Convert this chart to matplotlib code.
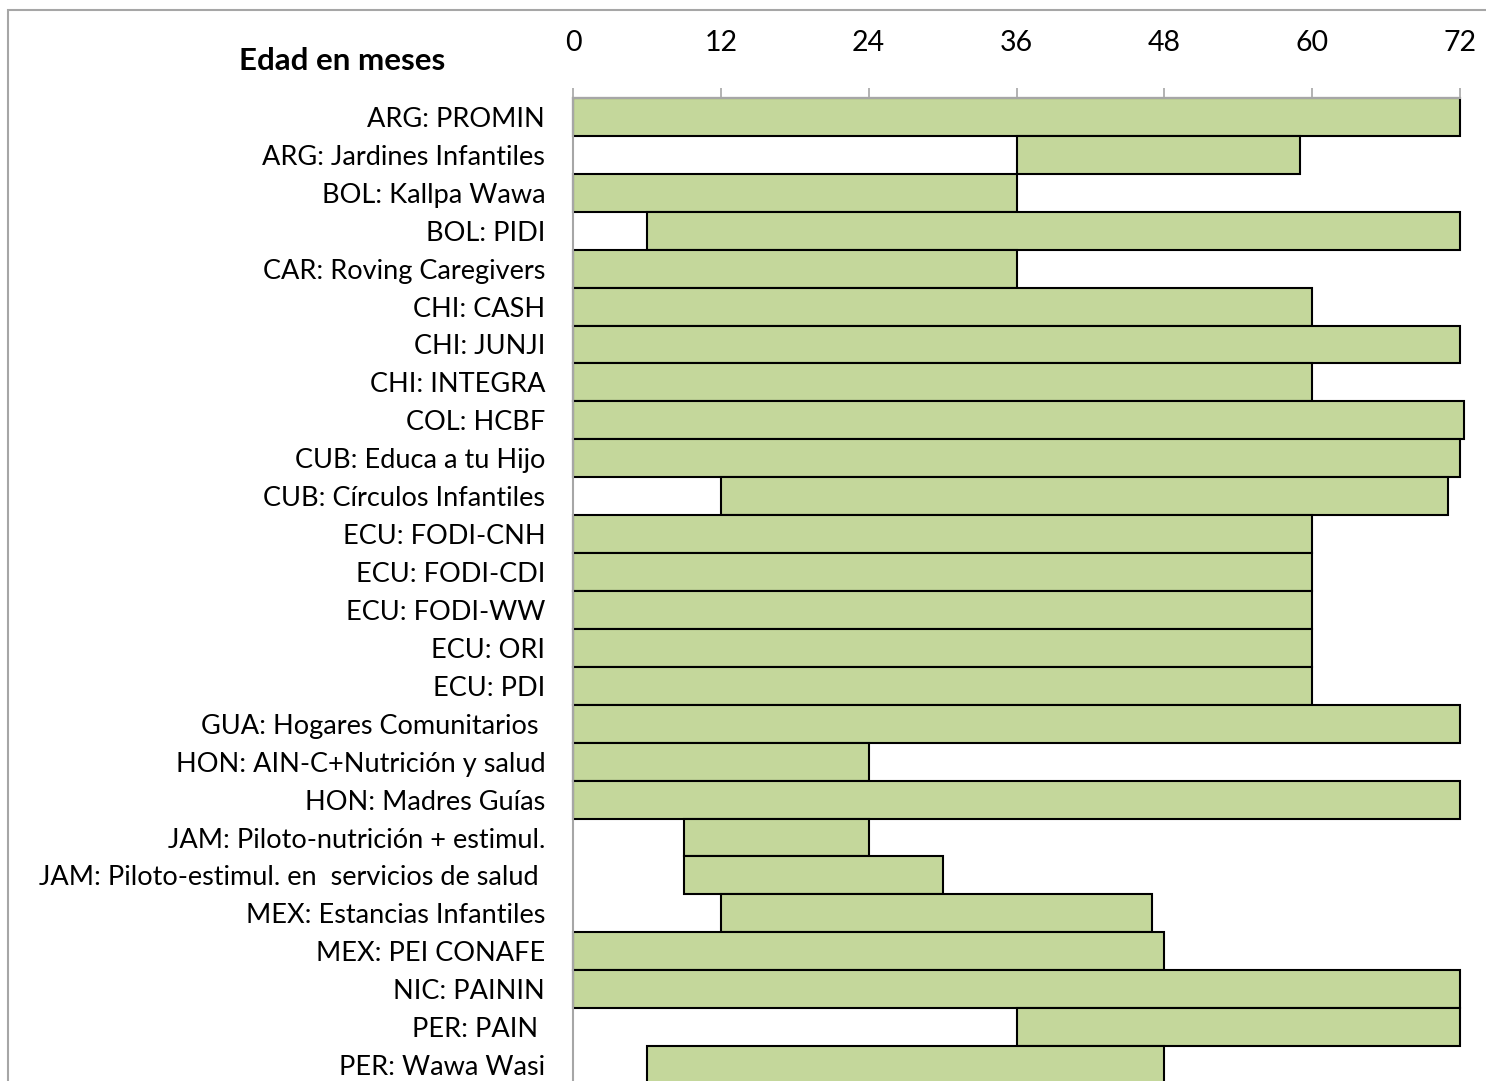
import matplotlib.pyplot as plt
from matplotlib.patches import Rectangle

# programs and the age ranges they cover (months)
programas = [
    "ARG: PROMIN",
    "ARG: Jardines Infantiles",
    "BOL: Kallpa Wawa",
    "BOL: PIDI",
    "CAR: Roving Caregivers",
    "CHI: CASH",
    "CHI: JUNJI",
    "CHI: INTEGRA",
    "COL: HCBF",
    "CUB: Educa a tu Hijo",
    "CUB: Círculos Infantiles",
    "ECU: FODI-CNH",
    "ECU: FODI-CDI",
    "ECU: FODI-WW",
    "ECU: ORI",
    "ECU: PDI",
    "GUA: Hogares Comunitarios ",
    "HON: AIN-C+Nutrición y salud",
    "HON: Madres Guías",
    "JAM: Piloto-nutrición + estimul.",
    "JAM: Piloto-estimul. en  servicios de salud ",
    "MEX: Estancias Infantiles",
    "MEX: PEI CONAFE",
    "NIC: PAININ",
    "PER: PAIN ",
    "PER: Wawa Wasi",
]
edad_inicio = [0, 36, 0, 6, 0, 0, 0, 0, 0, 0, 12, 0, 0, 0, 0, 0, 0, 0, 0, 9, 9, 12, 0, 0, 36, 6]
edad_fin = [72, 59, 36, 72, 36, 60, 72, 60, 72.3, 72, 71, 60, 60, 60, 60, 60, 72, 24, 72, 24, 30, 47, 48, 72, 72, 48]
ticks = [0, 12, 24, 36, 48, 60, 72]

fig = plt.figure(figsize=(14.86, 10.81), dpi=100)
plt.rcParams['font.family'] = ['Lato', 'DejaVu Sans']

# grey chart border, runs off the right and bottom edges
fig.patches.append(Rectangle((8 / 1486, -0.1), 1.2, 1 - 10 / 1081 + 0.1,
                             transform=fig.transFigure, fill=False,
                             edgecolor="#a6a6a6", linewidth=1.5))

ax = fig.add_axes([573 / 1486, 1 - 1084 / 1081, (1460 - 573) / 1486, (1084 - 98) / 1081])

pos = list(range(len(programas)))
anchos = [f - i for i, f in zip(edad_inicio, edad_fin)]
ax.barh(pos, anchos, left=edad_inicio, height=1.0, color="#c4d79b",
        edgecolor="black", linewidth=1.5, clip_on=False)

ax.set_ylim(len(programas) - 0.5, -0.5)
ax.set_xlim(0, 72)
ax.set_yticks(pos)
ax.set_yticklabels(programas, fontsize=19.5)
ax.tick_params(axis="y", length=0, pad=20)
ax.xaxis.tick_top()
ax.set_xticks(ticks)
ax.set_xticklabels([str(t) for t in ticks], fontsize=20.5)
ax.tick_params(axis="x", length=7, width=1.2, color="#a6a6a6", pad=23)

for s in ["right", "bottom"]:
    ax.spines[s].set_visible(False)
for s in ["top", "left"]:
    ax.spines[s].set_color("#a6a6a6")
    ax.spines[s].set_linewidth(1.5)

fig.text(342 / 1486, 1 - 61 / 1081, "Edad en meses", fontsize=22.5,
         fontweight="bold", ha="center", va="center")

fig.savefig("out.png", dpi=100)
